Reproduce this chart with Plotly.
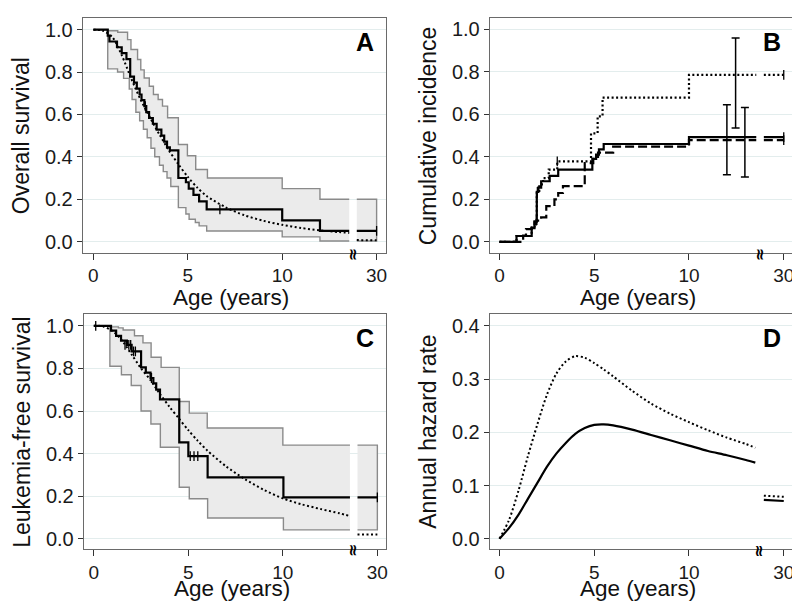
import plotly.graph_objects as go

# ---------------- axis break settings (display units; 15 == 30 years) ----------------
BREAK_START = 13.55
BREAK_END = 13.95
AXIS_END = 15.0
X_TICKVALS = [0, 5, 10, 15]
X_TICKTEXT = ["0", "5", "10", "30"]

# ---------------- Panel A: overall survival ----------------
A_KM_T = [0, 0.76, 0.85, 1.25, 1.5, 1.75, 1.95, 2.15, 2.3, 2.45, 2.55, 2.7, 2.8, 2.95, 3.15, 3.35,
          3.6, 3.75, 3.9, 4.05, 4.5, 4.9, 5.05, 5.3, 5.6, 6.0, 10.0, 12.0]
A_KM_S = [1.0, 0.972, 0.944, 0.917, 0.889, 0.861, 0.778, 0.75, 0.722, 0.694, 0.667, 0.639, 0.611,
          0.583, 0.556, 0.528, 0.5, 0.472, 0.444, 0.43, 0.30, 0.28, 0.25, 0.22, 0.19, 0.152, 0.10, 0.05]
A_UP_T = [0, 0.76, 1.29, 1.81, 1.99, 2.34, 2.51, 2.69, 2.96, 3.18, 3.43, 3.66, 3.93, 4.5, 4.98,
          5.42, 6.04, 10.0, 12.0]
A_UP_S = [1.0, 0.995, 0.988, 0.953, 0.906, 0.859, 0.81, 0.772, 0.733, 0.694, 0.67, 0.639, 0.584,
          0.458, 0.405, 0.34, 0.30, 0.25, 0.20]
A_LO_T = [0, 0.76, 1.28, 1.6, 1.9, 2.05, 2.25, 2.45, 2.65, 2.85, 3.05, 3.25, 3.5, 3.7, 3.9, 4.1,
          4.5, 4.9, 5.07, 5.4, 5.6, 6.0, 10.0, 12.0]
A_LO_S = [1.0, 0.815, 0.80, 0.77, 0.72, 0.67, 0.61, 0.57, 0.53, 0.49, 0.44, 0.40, 0.36, 0.33,
          0.30, 0.26, 0.16, 0.13, 0.105, 0.09, 0.074, 0.05, 0.022, 0.003]
A_FIT_T = [0, 0.5, 1, 1.5, 2, 2.5, 3, 3.5, 4, 4.5, 5, 5.5, 6, 7, 8, 9, 10, 11, 12, 13, 13.55]
A_FIT_S = [1.0, 0.995, 0.965, 0.88, 0.77, 0.67, 0.585, 0.505, 0.43, 0.365, 0.305, 0.255, 0.215,
           0.162, 0.124, 0.098, 0.079, 0.064, 0.053, 0.045, 0.041]
A_FIT_TAIL_T = [13.95, 15.0]
A_FIT_TAIL_S = [0.007, 0.006]
A_CENS_T = [2.75, 6.7, 15.0]
A_CENS_S = [0.639, 0.152, 0.05]

# ---------------- Panel B: cumulative incidence ----------------
B_SOLID_T = [0, 0.9, 1.7, 1.85, 1.97, 2.05, 2.2, 2.65, 3.1, 4.9, 5.1, 5.25, 5.5, 10.0]
B_SOLID_V = [0, 0.028, 0.065, 0.095, 0.235, 0.255, 0.285, 0.31, 0.34, 0.39, 0.41, 0.435, 0.46, 0.492]
B_DOT_T = [0, 0.9, 1.7, 1.85, 1.97, 2.1, 2.3, 2.6, 3.05, 4.83, 5.18, 5.44, 10.0]
B_DOT_V = [0, 0.028, 0.065, 0.095, 0.24, 0.27, 0.30, 0.34, 0.378, 0.51, 0.59, 0.678, 0.785]
B_DASH_T = [0, 1.25, 1.4, 1.7, 1.95, 2.2, 2.47, 2.9, 3.1, 3.35, 4.5, 4.95, 5.2, 6.0, 10.0]
B_DASH_V = [0, 0.03, 0.06, 0.085, 0.10, 0.115, 0.168, 0.20, 0.23, 0.262, 0.37, 0.40, 0.42, 0.448, 0.478]
B_EB_X = [12.0, 12.46, 12.95]
B_EB_MID = [0.48, 0.745, 0.468]
B_EB_LO = [0.316, 0.535, 0.305]
B_EB_HI = [0.644, 0.958, 0.632]
B_CENS_SOLID_T = [2.0, 15.0]
B_CENS_SOLID_V = [0.235, 0.492]
B_CENS_DOT_T = [3.05, 15.0]
B_CENS_DOT_V = [0.378, 0.785]
B_CENS_DASH_T = [1.95, 15.0]
B_CENS_DASH_V = [0.10, 0.478]

# ---------------- Panel C: leukemia-free survival ----------------
C_KM_T = [0, 0.91, 1.18, 1.44, 1.75, 2.0, 2.5, 2.75, 3.0, 3.15, 3.3, 3.5, 4.52, 5.0, 6.02, 10.03]
C_KM_S = [1.0, 0.977, 0.953, 0.93, 0.91, 0.88, 0.805, 0.78, 0.755, 0.73, 0.70, 0.655, 0.453,
          0.388, 0.289, 0.195]
C_UP_T = [0, 0.91, 1.3, 1.55, 2.15, 2.6, 3.03, 3.56, 4.52, 5.05, 6.0, 10.0]
C_UP_S = [1.0, 0.995, 0.99, 0.98, 0.953, 0.92, 0.852, 0.805, 0.645, 0.59, 0.52, 0.44]
C_LO_T = [0, 0.85, 1.46, 1.98, 2.5, 3.02, 3.52, 4.52, 5.05, 6.02, 10.03]
C_LO_S = [1.0, 0.81, 0.77, 0.72, 0.60, 0.539, 0.43, 0.242, 0.188, 0.098, 0.042]
C_FIT_T = [0, 0.5, 1, 1.5, 2, 2.5, 3, 3.5, 4, 4.5, 5, 5.5, 6, 7, 8, 9, 10, 11, 12, 13, 13.55]
C_FIT_S = [1.0, 0.997, 0.975, 0.93, 0.865, 0.80, 0.745, 0.68, 0.62, 0.565, 0.51, 0.46, 0.415,
           0.34, 0.28, 0.23, 0.19, 0.162, 0.14, 0.12, 0.107]
C_FIT_TAIL_T = [13.95, 15.0]
C_FIT_TAIL_S = [0.02, 0.02]
C_CENS_T = [0.1, 1.65, 1.85, 1.95, 2.1, 2.2, 3.05, 5.1, 5.3, 5.5, 15.0]
C_CENS_S = [1.0, 0.91, 0.91, 0.91, 0.88, 0.88, 0.755, 0.388, 0.388, 0.388, 0.195]

# ---------------- Panel D: annual hazard rate ----------------
D_T = [0, 0.5, 1.0, 1.5, 2.0, 2.5, 3.0, 3.5, 4.0, 4.5, 5.0, 5.5, 6.0, 7.0, 8.0, 9.0, 10.0,
       11.0, 12.0, 13.0, 13.5]
D_SOLID = [0.0, 0.02, 0.045, 0.075, 0.105, 0.135, 0.16, 0.18, 0.197, 0.208, 0.214, 0.215,
           0.213, 0.205, 0.195, 0.185, 0.175, 0.165, 0.157, 0.148, 0.143]
D_DOT = [0.0, 0.035, 0.09, 0.155, 0.215, 0.27, 0.31, 0.333, 0.343, 0.34, 0.33, 0.318, 0.305,
         0.278, 0.254, 0.235, 0.219, 0.204, 0.19, 0.178, 0.171]
D_TAIL_T = [13.95, 15.0]
D_SOLID_TAIL = [0.073, 0.071]
D_DOT_TAIL = [0.081, 0.079]

# ---------------- layout geometry (pixels) ----------------
W, H = 800, 605
PANELS = {
    "A": dict(x=(75, 379), y=(10, 245), xr=[-0.56, 15.5], yr=[-0.052, 1.055], tgap=45),
    "B": dict(x=(483, 787), y=(10, 245), xr=[-0.51, 15.49], yr=[-0.05, 1.052], tgap=45),
    "C": dict(x=(76, 379), y=(307, 542), xr=[-0.53, 15.46], yr=[-0.048, 1.053], tgap=39),
    "D": dict(x=(483, 787), y=(307, 542), xr=[-0.51, 15.49], yr=[-0.0193, 0.4212], tgap=39),
}
FONT = "Liberation Sans, Arial, sans-serif"


def value_at(times, vals, x):
    v = vals[0]
    for t, val in zip(times, vals):
        if t <= x:
            v = val
    return v


def step_xy(times, vals, x0, x1):
    v = value_at(times, vals, x0)
    xs, ys = [x0], [v]
    for t, val in zip(times, vals):
        if x0 < t < x1:
            xs += [t, t]
            ys += [v, val]
            v = val
    xs.append(x1)
    ys.append(v)
    return xs, ys


def broken_step(times, vals):
    x1, y1 = step_xy(times, vals, 0, BREAK_START)
    x2, y2 = step_xy(times, vals, BREAK_END, AXIS_END)
    return x1 + [None] + x2, y1 + [None] + y2


fig = go.Figure()


def axis_ids(i):
    return ("x" if i == 1 else f"x{i}"), ("y" if i == 1 else f"y{i}")


def add_band(i, ut, us, lt, ls):
    xa, ya = axis_ids(i)
    for a, b in [(0, BREAK_START), (BREAK_END, AXIS_END)]:
        uxs, uys = step_xy(ut, us, a, b)
        lxs, lys = step_xy(lt, ls, a, b)
        fig.add_trace(go.Scatter(x=uxs + lxs[::-1], y=uys + lys[::-1], fill="toself",
                                 fillcolor="#ebebeb", line=dict(width=0), mode="lines",
                                 hoverinfo="skip", showlegend=False, xaxis=xa, yaxis=ya))
    ux1, uy1 = step_xy(ut, us, 0, BREAK_START)
    lx1, ly1 = step_xy(lt, ls, 0, BREAK_START)
    ux2, uy2 = step_xy(ut, us, BREAK_END, AXIS_END)
    lx2, ly2 = step_xy(lt, ls, BREAK_END, AXIS_END)
    bx = ux1 + [None] + lx1 + [None] + ux2 + lx2[::-1]
    by = uy1 + [None] + ly1 + [None] + uy2 + ly2[::-1]
    fig.add_trace(go.Scatter(x=bx, y=by, mode="lines", line=dict(color="#8a8a8a", width=1.4),
                             hoverinfo="skip", showlegend=False, xaxis=xa, yaxis=ya))


def add_step(i, t, v, dash="solid", width=2.2):
    xa, ya = axis_ids(i)
    xs, ys = broken_step(t, v)
    fig.add_trace(go.Scatter(x=xs, y=ys, mode="lines",
                             line=dict(color="black", width=width, dash=dash),
                             showlegend=False, xaxis=xa, yaxis=ya))


def add_curve(i, t, v, tt, tv, dash="solid", width=2.2):
    xa, ya = axis_ids(i)
    fig.add_trace(go.Scatter(x=list(t) + [None] + list(tt), y=list(v) + [None] + list(tv),
                             mode="lines", line=dict(color="black", width=width, dash=dash,
                                                     shape="spline", smoothing=0.8),
                             showlegend=False, xaxis=xa, yaxis=ya))


def add_cens(i, t, v):
    xa, ya = axis_ids(i)
    fig.add_trace(go.Scatter(x=t, y=v, mode="markers",
                             marker=dict(symbol="line-ns-open", size=7, color="black",
                                         line=dict(color="black", width=1.3)),
                             showlegend=False, xaxis=xa, yaxis=ya))


DOT = "2px,2.5px"
DASH = "9px,4px"

# Panel A
add_band(1, A_UP_T, A_UP_S, A_LO_T, A_LO_S)
add_curve(1, A_FIT_T, A_FIT_S, A_FIT_TAIL_T, A_FIT_TAIL_S, dash=DOT, width=2)
add_step(1, A_KM_T, A_KM_S)
add_cens(1, A_CENS_T, A_CENS_S)

# Panel B
add_step(2, B_DASH_T, B_DASH_V, dash=DASH)
add_step(2, B_DOT_T, B_DOT_V, dash=DOT)
add_step(2, B_SOLID_T, B_SOLID_V)
add_cens(2, B_CENS_SOLID_T, B_CENS_SOLID_V)
add_cens(2, B_CENS_DOT_T, B_CENS_DOT_V)
add_cens(2, B_CENS_DASH_T, B_CENS_DASH_V)
fig.add_trace(go.Scatter(
    x=B_EB_X, y=B_EB_MID, mode="markers", marker=dict(size=1, color="rgba(0,0,0,0)"),
    error_y=dict(type="data", symmetric=False,
                 array=[h - m for h, m in zip(B_EB_HI, B_EB_MID)],
                 arrayminus=[m - l for m, l in zip(B_EB_MID, B_EB_LO)],
                 color="black", thickness=1.5, width=4),
    showlegend=False, xaxis="x2", yaxis="y2"))

# Panel C
add_band(3, C_UP_T, C_UP_S, C_LO_T, C_LO_S)
add_curve(3, C_FIT_T, C_FIT_S, C_FIT_TAIL_T, C_FIT_TAIL_S, dash=DOT, width=2)
add_step(3, C_KM_T, C_KM_S)
add_cens(3, C_CENS_T, C_CENS_S)

# Panel D
add_curve(4, D_T, D_DOT, D_TAIL_T, D_DOT_TAIL, dash=DOT, width=2)
add_curve(4, D_T, D_SOLID, D_TAIL_T, D_SOLID_TAIL, dash="solid", width=2.2)

# ---------------- axes ----------------
layout = dict(width=W, height=H, margin=dict(l=0, r=0, t=0, b=0),
              paper_bgcolor="white", plot_bgcolor="white",
              font=dict(family=FONT, color="#111"), showlegend=False)

Y_TICKS = {"A": [0, 0.2, 0.4, 0.6, 0.8, 1.0], "B": [0, 0.2, 0.4, 0.6, 0.8, 1.0],
           "C": [0, 0.2, 0.4, 0.6, 0.8, 1.0], "D": [0, 0.1, 0.2, 0.3, 0.4]}
Y_TITLES = {"A": "Overall survival", "B": "Cumulative incidence",
            "C": "Leukemia-free survival", "D": "Annual hazard rate"}
annotations = []
for i, key in enumerate(["A", "B", "C", "D"], start=1):
    p = PANELS[key]
    xd = [p["x"][0] / W, p["x"][1] / W]
    yd = [1 - p["y"][1] / H, 1 - p["y"][0] / H]
    sx = "xaxis" if i == 1 else f"xaxis{i}"
    sy = "yaxis" if i == 1 else f"yaxis{i}"
    xa, ya = axis_ids(i)
    layout[sx] = dict(domain=xd, range=p["xr"], anchor=ya, tickvals=X_TICKVALS,
                      ticktext=X_TICKTEXT, ticks="outside", ticklen=6, tickwidth=1.2,
                      tickcolor="#333", showgrid=False, zeroline=False, showline=True,
                      linecolor="#6a6a6a", linewidth=1.2, mirror=True, ticklabelstandoff=0,
                      tickfont=dict(size=19, color="#1a1a1a", family=FONT))
    layout[sy] = dict(domain=yd, range=p["yr"], anchor=xa, tickvals=Y_TICKS[key],
                      tickformat=".1f", ticks="outside", ticklen=5, tickwidth=1.2,
                      tickcolor="#333", showgrid=True, gridcolor="#e3eded", gridwidth=1,
                      zeroline=False, showline=True, linecolor="#6a6a6a", linewidth=1.2,
                      mirror=True, tickfont=dict(size=20, color="#1a1a1a", family=FONT))
    xc = (p["x"][0] + p["x"][1]) / 2
    annotations.append(dict(text="Age (years)", x=(xc - 3) / W,
                            y=1 - (p["y"][1] + p["tgap"]) / H, xref="paper", yref="paper",
                            showarrow=False, font=dict(size=22.5, color="#111", family=FONT),
                            xanchor="center", yanchor="middle", borderpad=0))
    annotations.append(dict(text=Y_TITLES[key], x=(p["x"][0] - 62) / W,
                            y=1 - ((p["y"][0] + p["y"][1]) / 2) / H, xref="paper",
                            yref="paper", showarrow=False, textangle=-90,
                            font=dict(size=23, color="#111", family=FONT),
                            xanchor="center", yanchor="middle"))
    annotations.append(dict(text=f"<b>{key}</b>", x=(p["x"][1] - 10) / W,
                            y=1 - (p["y"][0] + 24) / H, xref="paper", yref="paper",
                            showarrow=False, font=dict(size=25, color="black", family=FONT),
                            xanchor="right", yanchor="middle"))
    annotations.append(dict(text="<b>≈</b>", x=(BREAK_START + BREAK_END) / 2, xref=xa,
                            y=1 - (p["y"][1] + 1) / H, yref="paper", showarrow=False,
                            textangle=90, font=dict(size=16, color="black", family="DejaVu Sans"),
                            xanchor="center", yanchor="middle"))

layout["annotations"] = annotations
fig.update_layout(**layout)
fig.write_html("out.html")
